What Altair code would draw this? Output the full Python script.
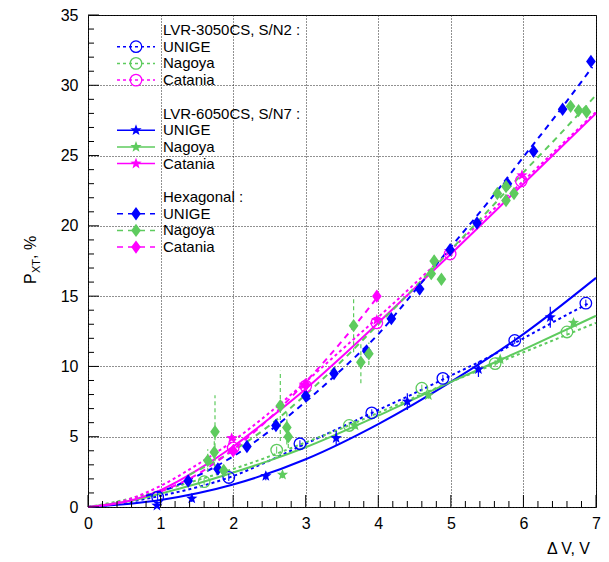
import math
import altair as alt
import pandas as pd

BLUE = "#0000ff"
GREEN = "#5ecb5e"
MAGENTA = "#ff00ff"
FONT = "Liberation Sans"

# ---------------- data ----------------
# LVR-3050CS, S/N2  (open circles)
c_unige_x = [0.96, 1.94, 2.92, 3.91, 4.89, 5.88, 6.86]
c_unige_y = [0.7, 2.1, 4.5, 6.7, 9.15, 11.85, 14.5]
c_nagoya_x = [1.6, 2.6, 3.6, 4.6, 5.61, 6.6]
c_nagoya_y = [1.8, 4.05, 5.8, 8.45, 10.2, 12.45]
c_catania_x = [2.0, 3.0, 3.98, 4.99, 5.97]
c_catania_y = [4.2, 8.6, 13.1, 18.0, 23.2]

# LVR-6050CS, S/N7  (stars)
s_unige_x = [0.95, 1.43, 2.45, 3.42, 4.4, 5.38, 6.37]
s_unige_y = [0.1, 0.6, 2.2, 4.9, 7.5, 9.8, 13.5]
s_unige_err = [0.15, 0.25, 0.3, 0.5, 0.6, 0.55, 0.75]
s_nagoya_x = [2.68, 3.68, 4.69, 5.68, 6.69]
s_nagoya_y = [2.3, 5.8, 7.95, 10.5, 13.1]
s_catania_x = [1.98, 2.98, 3.98, 4.98, 5.98]
s_catania_y = [4.9, 8.7, 13.3, 18.2, 23.6]

# Hexagonal  (diamonds)
d_unige_x = [1.38, 1.79, 2.19, 2.59, 3.0, 3.39, 3.84, 4.18, 4.57, 4.99, 5.36, 5.78, 6.14, 6.54, 6.93]
d_unige_y = [1.85, 2.7, 4.3, 5.8, 7.9, 9.5, 11.1, 13.4, 15.5, 18.3, 20.2, 23.0, 25.3, 28.3, 31.7]
d_nagoya_x = [1.65, 1.74, 1.75, 1.87, 2.65, 2.74, 2.76, 3.66, 3.76, 3.87, 4.73, 4.77, 4.87,
              5.64, 5.76, 5.76, 5.87, 6.65, 6.76, 6.87]
d_nagoya_y = [3.3, 3.9, 5.35, 2.6, 7.2, 5.65, 5.0, 12.9, 10.3, 10.9, 16.6, 17.5, 16.2,
              22.3, 22.8, 21.8, 22.3, 28.5, 28.2, 28.1]
d_nagoya_err = [0.8, 1.0, 2.6, 0.5, 2.5, 1.2, 0.8, 1.9, 1.5, 0.8, 0.4, 0.4, 0.4,
                0.3, 0.3, 0.3, 0.3, 0.3, 0.3, 0.3]
d_catania_x = [2.0, 3.0, 3.98]
d_catania_y = [4.0, 8.7, 15.0]

# fitted curves (read at several abscissae)
f3_unige_x = [0, 0.5, 1, 1.5, 2, 2.5, 3, 3.5, 4, 4.5, 5, 5.5, 6, 6.5, 6.9]
f3_unige_y = [0, 0.3, 0.8, 1.4, 2.2, 3.3, 4.5, 5.7, 6.9, 8.1, 9.35, 10.6, 12.0, 13.4, 14.5]
f3_nagoya_x = [0, 0.5, 1, 1.5, 2, 2.5, 3, 3.5, 4, 4.5, 5, 5.5, 6, 6.5, 7]
f3_nagoya_y = [0, 0.5, 1.15, 1.9, 2.7, 3.6, 4.6, 5.6, 6.7, 7.8, 8.9, 9.95, 11.0, 12.05, 13.1]
f3_catania_x = [0, 0.5, 1, 1.5, 2, 2.5, 3, 3.5, 4, 5, 6, 7]
f3_catania_y = [0, 0.45, 1.5, 3.0, 4.7, 6.7, 8.9, 11.2, 13.5, 18.3, 23.2, 28.1]
f6_unige_x = [0, 1, 2, 3, 4, 5, 6, 7]
f6_unige_y = [0, 0.5, 1.6, 3.4, 5.9, 8.9, 12.3, 16.3]
f6_nagoya_x = [0, 0.5, 1, 1.5, 2, 2.5, 3, 4, 5, 6, 7]
f6_nagoya_y = [0, 0.35, 0.95, 1.65, 2.45, 3.3, 4.25, 6.5, 8.9, 11.2, 13.6]
f6_catania_x = [0, 0.5, 1, 1.5, 2, 2.5, 3, 3.5, 4, 5, 6, 7]
f6_catania_y = [0, 0.35, 1.2, 2.6, 4.3, 6.3, 8.4, 10.7, 13.1, 18.0, 23.0, 28.0]
fh_unige_x = [0.8, 1, 1.5, 2, 2.5, 3, 3.5, 4, 4.5, 5, 5.5, 6, 6.5, 6.95]
fh_unige_y = [0.8, 1.1, 2.2, 3.6, 5.4, 7.5, 9.8, 12.3, 15.35, 18.5, 21.6, 24.9, 28.2, 31.3]
fh_nagoya_x = [1.4, 2, 2.5, 3, 3.5, 4, 4.5, 5, 5.5, 6, 6.5, 7]
fh_nagoya_y = [2.3, 4.0, 5.8, 8.0, 10.4, 13.0, 15.6, 18.3, 21.0, 23.8, 26.5, 29.3]
fh_catania_x = [1, 1.5, 2, 2.5, 3, 3.5, 4]
fh_catania_y = [1.1, 2.3, 4.1, 6.3, 8.9, 11.8, 15.0]

x_major = [0, 1, 2, 3, 4, 5, 6, 7]
y_major = [0, 5, 10, 15, 20, 25, 30, 35]

legend_labels = ["LVR-3050CS, S/N2 :", "UNIGE", "Nagoya", "Catania",
                 "LVR-6050CS, S/N7 :", "UNIGE", "Nagoya", "Catania",
                 "Hexagonal :", "UNIGE", "Nagoya", "Catania"]
legend_rows = [0, 1, 2, 3, 5, 6, 7, 8, 10, 11, 12, 13]
legend_colors = [BLUE, GREEN, MAGENTA]

# ---------------- layout ----------------
W, H = 508, 492
TOP = 7
XMAX, YMAX = 7.0, 35.0
xs = alt.Scale(domain=[0, XMAX], nice=False, zero=False)
ys = alt.Scale(domain=[0, YMAX], nice=False, zero=False)

x_axis = alt.Axis(values=x_major, format="d", grid=True, gridDash=[1, 2],
                  gridColor="#222", gridWidth=1, ticks=False, tickSize=0,
                  domain=False, labelFont=FONT, labelFontSize=16,
                  labelColor="black", labelPadding=8, labelFlush=False,
                  labelOverlap=False, title=None)
y_axis = alt.Axis(values=y_major, format="d", grid=True, gridDash=[1, 2],
                  gridColor="#222", gridWidth=1, ticks=False, tickSize=0,
                  domain=False, labelFont=FONT, labelFontSize=16,
                  labelColor="black", labelPadding=10, labelFlush=False,
                  labelOverlap=False, title=None)

star_pts = []
for k in range(10):
    r = 1.0 if k % 2 == 0 else 0.42
    a = -math.pi / 2 + k * math.pi / 5
    star_pts.append(f"{r*math.cos(a):.3f},{r*math.sin(a):.3f}")
STAR = "M" + "L".join(star_pts) + "Z"
DIAMOND = "M0,-1L0.72,0L0,1L-0.72,0Z"


def X(field="x"):
    return alt.X(f"{field}:Q", scale=xs, axis=x_axis, title=None)


def Y(field="y"):
    return alt.Y(f"{field}:Q", scale=ys, axis=y_axis, title=None)


def pts(xv, yv, color, err=None):
    df = pd.DataFrame({"x": xv, "y": yv})
    df["color"] = color
    e = err if err is not None else [0.0] * len(xv)
    df["lo"] = [a - b for a, b in zip(yv, e)]
    df["hi"] = [a + b for a, b in zip(yv, e)]
    return df


def fit(xv, yv, color, sid):
    df = pd.DataFrame({"x": xv, "y": yv})
    df["color"] = color
    df["sid"] = sid
    return df


circles = pd.concat([pts(c_unige_x, c_unige_y, BLUE, [0.25] * len(c_unige_x)),
                     pts(c_nagoya_x, c_nagoya_y, GREEN, [0.25] * len(c_nagoya_x)),
                     pts(c_catania_x, c_catania_y, MAGENTA)])
stars = pd.concat([pts(s_unige_x, s_unige_y, BLUE, s_unige_err),
                   pts(s_nagoya_x, s_nagoya_y, GREEN, [0.25] * len(s_nagoya_x)),
                   pts(s_catania_x, s_catania_y, MAGENTA)])
diamonds = pd.concat([pts(d_unige_x, d_unige_y, BLUE),
                      pts(d_nagoya_x, d_nagoya_y, GREEN, d_nagoya_err),
                      pts(d_catania_x, d_catania_y, MAGENTA)])

dotted = pd.concat([fit(f3_unige_x, f3_unige_y, BLUE, "a"),
                    fit(f3_nagoya_x, f3_nagoya_y, GREEN, "b"),
                    fit(f3_catania_x, f3_catania_y, MAGENTA, "c")])
solid = pd.concat([fit(f6_unige_x, f6_unige_y, BLUE, "a"),
                   fit(f6_nagoya_x, f6_nagoya_y, GREEN, "b"),
                   fit(f6_catania_x, f6_catania_y, MAGENTA, "c")])
dashed = pd.concat([fit(fh_unige_x, fh_unige_y, BLUE, "a"),
                    fit(fh_nagoya_x, fh_nagoya_y, GREEN, "b"),
                    fit(fh_catania_x, fh_catania_y, MAGENTA, "c")])

COL = alt.Color("color:N", scale=None, legend=None)


def line_layer(df, dash):
    kw = dict(strokeWidth=2, interpolate="monotone")
    if dash:
        kw["strokeDash"] = dash
    return alt.Chart(df).mark_line(**kw).encode(x=X(), y=Y(), detail="sid:N", color=COL)


l_dot = line_layer(dotted, [3, 3])
l_sol = line_layer(solid, None)
l_das = line_layer(dashed, [6, 5])

err_c = alt.Chart(circles).mark_rule(strokeWidth=1).encode(x=X(), y=Y("lo"), y2="hi:Q", color=COL)
err_s = alt.Chart(stars).mark_rule(strokeWidth=1.2).encode(x=X(), y=Y("lo"), y2="hi:Q", color=COL)
err_d = alt.Chart(diamonds).mark_rule(strokeWidth=1.2, strokeDash=[4, 3]).encode(
    x=X(), y=Y("lo"), y2="hi:Q", color=COL)

p_c = alt.Chart(circles).mark_point(shape="circle", filled=False, size=133,
                                    strokeWidth=1.3, opacity=1).encode(x=X(), y=Y(), color=COL)
p_s = alt.Chart(stars).mark_point(shape=STAR, filled=True, size=140, opacity=1,
                                  strokeWidth=0).encode(x=X(), y=Y(), color=COL)
p_d = alt.Chart(diamonds).mark_point(shape=DIAMOND, filled=True, size=180, opacity=1,
                                     strokeWidth=0).encode(x=X(), y=Y(), color=COL)

# inward ticks
xt_major = pd.DataFrame({"x": x_major})
xt_minor = pd.DataFrame({"x": [i / 5 for i in range(36) if i % 5 != 0]})
yt_major = pd.DataFrame({"y": y_major})
yt_minor = pd.DataFrame({"y": [i for i in range(36) if i % 5 != 0]})
tk = dict(color="black", strokeWidth=1)
t1 = alt.Chart(xt_major).mark_rule(**tk).encode(x=X(), y=alt.value(H), y2=alt.value(H - 12))
t2 = alt.Chart(xt_minor).mark_rule(**tk).encode(x=X(), y=alt.value(H), y2=alt.value(H - 6))
t3 = alt.Chart(yt_major).mark_rule(**tk).encode(y=Y(), x=alt.value(0), x2=alt.value(11))
t4 = alt.Chart(yt_minor).mark_rule(**tk).encode(y=Y(), x=alt.value(0), x2=alt.value(6))

# legend (positions in data space)
ROW0, ROWH = 15.0, 16.7


def ly(row):
    return YMAX * (1 - (ROW0 + ROWH * row) / H)


leg_txt = pd.DataFrame({"label": legend_labels, "y": [ly(r) for r in legend_rows]})
leg_text = alt.Chart(leg_txt).mark_text(align="left", baseline="middle", font=FONT,
                                        fontSize=15, color="black").encode(
    x=alt.value(75), y=Y(), text="label:N")


def leg_df(rows):
    return pd.DataFrame({"y": [ly(r) for r in rows], "color": legend_colors})


leg_c = leg_df([1, 2, 3])
leg_s = leg_df([6, 7, 8])
leg_d = leg_df([11, 12, 13])
lg = []
lg.append(alt.Chart(leg_c).mark_rule(strokeWidth=1.5, strokeDash=[3, 3]).encode(
    x=alt.value(29), x2=alt.value(67), y=Y(), color=COL))
lg.append(alt.Chart(leg_s).mark_rule(strokeWidth=1.5).encode(
    x=alt.value(29), x2=alt.value(67), y=Y(), color=COL))
lg.append(alt.Chart(leg_d).mark_rule(strokeWidth=1.5, strokeDash=[6, 5]).encode(
    x=alt.value(29), x2=alt.value(67), y=Y(), color=COL))
lg.append(alt.Chart(leg_c).mark_point(shape="circle", filled=False, size=133,
                                      strokeWidth=1.3, opacity=1).encode(
    x=alt.value(48), y=Y(), color=COL))
lg.append(alt.Chart(leg_s).mark_point(shape=STAR, filled=True, size=140, opacity=1,
                                      strokeWidth=0).encode(x=alt.value(48), y=Y(), color=COL))
lg.append(alt.Chart(leg_d).mark_point(shape=DIAMOND, filled=True, size=180, opacity=1,
                                      strokeWidth=0).encode(x=alt.value(48), y=Y(), color=COL))

# axis titles
one = alt.Data(values=[{}])
xt = alt.Chart(one).mark_text(text="\u0394 V, V", align="right", baseline="middle",
                              font=FONT, fontSize=16, color="black").encode(
    x=alt.value(502), y=alt.value(534))
yt1 = alt.Chart(one).mark_text(text="P", align="left", baseline="alphabetic", angle=270,
                               font=FONT, fontSize=16, color="black").encode(
    x=alt.value(-52), y=alt.value(269))
yt2 = alt.Chart(one).mark_text(text="XT", align="left", baseline="alphabetic", angle=270,
                               font=FONT, fontSize=11, color="black").encode(
    x=alt.value(-48), y=alt.value(258))
yt3 = alt.Chart(one).mark_text(text=", %", align="left", baseline="alphabetic", angle=270,
                               font=FONT, fontSize=16, color="black").encode(
    x=alt.value(-52), y=alt.value(244))

chart = alt.layer(
    l_dot, l_sol, l_das, err_c, err_s, err_d, p_c, p_s, p_d,
    t1, t2, t3, t4, leg_text, *lg, xt, yt1, yt2, yt3
).properties(
    width=W, height=H,
    autosize=alt.AutoSizeParams(type="none"),
    padding={"left": 80, "top": TOP, "right": 5, "bottom": 54},
    background="white",
).configure_view(stroke="black", strokeWidth=1)

chart.save("out.html", embed_options={"renderer": "svg", "actions": False})
